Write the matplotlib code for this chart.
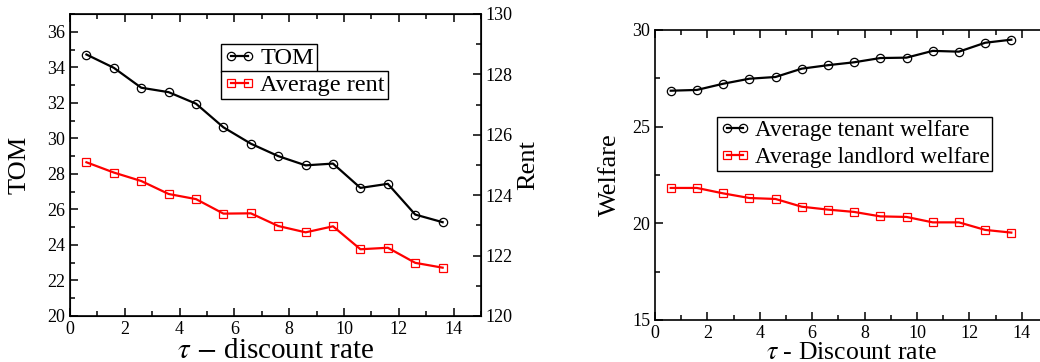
import numpy as np
import matplotlib
matplotlib.use("Agg")
import matplotlib.pyplot as plt
from matplotlib.ticker import MultipleLocator

plt.rcParams['font.family'] = ['Liberation Serif', 'DejaVu Serif']
plt.rcParams['mathtext.fontset'] = 'stix'

# data
tau = [0.6, 1.6, 2.6, 3.6, 4.6, 5.6, 6.6, 7.6, 8.6, 9.6, 10.6, 11.6, 12.6, 13.6]
tom = [34.72, 33.97, 32.85, 32.6, 31.95, 30.62, 29.7, 29.0, 28.48, 28.58,
       27.21, 27.44, 25.71, 25.28]
rent = [125.09, 124.75, 124.47, 124.04, 123.87, 123.39, 123.40, 122.98,
        122.77, 122.97, 122.21, 122.26, 121.76, 121.60]
tenant = [26.86, 26.9, 27.22, 27.48, 27.57, 28.0, 28.18, 28.33, 28.55,
          28.57, 28.92, 28.88, 29.34, 29.5]
landlord = [21.83, 21.83, 21.55, 21.31, 21.26, 20.86, 20.71, 20.59, 20.36,
            20.33, 20.05, 20.05, 19.66, 19.52]

W, H = 1040, 362
fig = plt.figure(figsize=(W / 100, H / 100), dpi=100)

line_kw = dict(lw=1.6, ms=6, mfc='none', mew=0.9)
tick_fs = 13


def style_axis(ax, xmaj, xmin, ymaj, ymin, right=True):
    ax.xaxis.set_major_locator(MultipleLocator(xmaj))
    ax.xaxis.set_minor_locator(MultipleLocator(xmin))
    ax.yaxis.set_major_locator(MultipleLocator(ymaj))
    ax.yaxis.set_minor_locator(MultipleLocator(ymin))
    ax.tick_params(which='both', direction='in', top=True, right=right,
                   labelsize=tick_fs, width=1.1)
    ax.tick_params(which='major', length=6)
    ax.tick_params(which='minor', length=3.5)
    for s in ax.spines.values():
        s.set_linewidth(1.2)


def leg(ax, handles, labels, loc, fs, spacing=0.1):
    lg = ax.legend(handles, labels, loc='upper left', bbox_to_anchor=loc,
                   fontsize=fs, frameon=True, fancybox=False, framealpha=1,
                   edgecolor='black', numpoints=2, handlelength=1.3,
                   handletextpad=0.2, borderpad=0.12, borderaxespad=0,
                   labelspacing=spacing)
    lg.get_frame().set_linewidth(1.0)
    return lg


# left panel: TOM and rent
ax1 = fig.add_axes([70 / W, (H - 316) / H, 411 / W, 302 / H])
ax2 = ax1.twinx()
l1, = ax1.plot(tau, tom, '-o', color='black', **line_kw)
l2, = ax2.plot(tau, rent, '-s', color='red', mec='red', **line_kw)
ax1.set_xlim(0, 15)
ax1.set_ylim(20, 37)
ax2.set_ylim(120, 130)
style_axis(ax1, 2, 1, 2, 1, right=False)
ax2.yaxis.set_major_locator(MultipleLocator(2))
ax2.yaxis.set_minor_locator(MultipleLocator(1))
ax2.tick_params(which='both', direction='in', labelsize=tick_fs, width=1.1)
ax2.tick_params(which='major', length=6)
ax2.tick_params(which='minor', length=3.5)
ax1.set_xlabel(r'$\tau$ $-$ discount rate', fontsize=21, labelpad=0)
ax1.set_ylabel('TOM', fontsize=19, labelpad=12)
ax2.set_ylabel('Rent', fontsize=19, labelpad=3)
lg1 = leg(ax2, [l1], ['TOM'], (0.367, 0.90), 17.5)
ax2.add_artist(lg1)
leg(ax2, [l2], ['Average rent'], (0.367, 0.81), 17.5)

# right panel: welfare
ax3 = fig.add_axes([655 / W, (H - 320) / H, 393 / W, 290 / H])
l3, = ax3.plot(tau, tenant, '-o', color='black', **line_kw)
l4, = ax3.plot(tau, landlord, '-s', color='red', mec='red', **line_kw)
ax3.set_xlim(0, 15)
ax3.set_ylim(15, 30)
style_axis(ax3, 2, 1, 5, 2.5)
ax3.set_xlabel(r'$\tau$ - Discount rate', fontsize=18.5, labelpad=0)
ax3.set_ylabel('Welfare', fontsize=19, labelpad=8)
leg(ax3, [l3, l4], ['Average tenant welfare', 'Average landlord welfare'],
    (0.158, 0.70), 16.7, spacing=0.25)

fig.savefig('out.png', dpi=100)
